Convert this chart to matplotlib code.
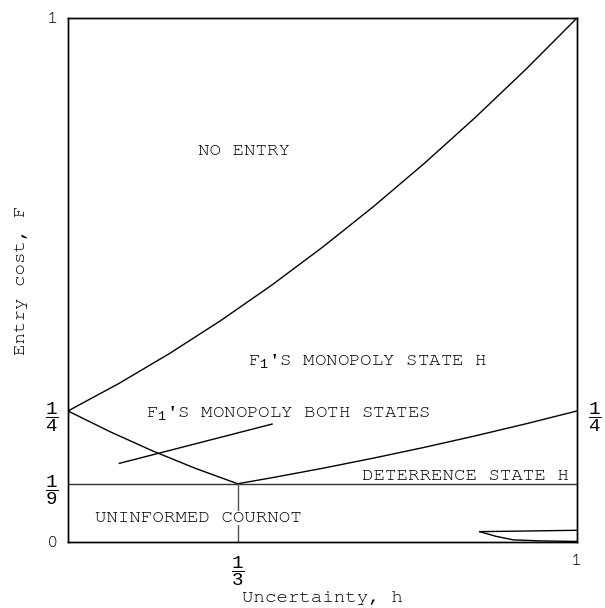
import matplotlib
matplotlib.use("Agg")
import matplotlib.pyplot as plt

mono = ['Courier New', 'Nimbus Mono PS', 'FreeMono', 'Liberation Mono']
plt.rcParams['font.family'] = mono
plt.rcParams['mathtext.fontset'] = 'custom'
plt.rcParams['mathtext.rm'] = 'Liberation Mono'
plt.rcParams['mathtext.it'] = 'Liberation Mono'
plt.rcParams['mathtext.bf'] = 'Liberation Mono'
fs = 13.8

# boundary curves (h, F)
top_h = [0, 0.1, 0.2, 0.3, 0.4, 0.5, 0.6, 0.7, 0.8, 0.9, 1.0]
top_F = [0.25, 0.3025, 0.36, 0.4225, 0.49, 0.5625, 0.64, 0.7225, 0.81, 0.9025, 1.0]

left_h = [0, 1/12, 2/12, 3/12, 1/3]
left_F = [0.25, 0.2101, 0.1736, 0.1406, 0.1111]

right_h = [1/3, 0.4, 0.5, 0.6, 0.7, 0.8, 0.9, 1.0]
right_F = [0.1111, 0.1225, 0.1406, 0.16, 0.1806, 0.2025, 0.2256, 0.25]

deter_F = 1/9
cournot_h = 1/3

# small sliver near bottom right
sl_top_h = [0.809, 1.0]
sl_top_F = [0.0197, 0.0223]
sl_bot_h = [0.809, 0.84, 0.875, 0.93, 1.0]
sl_bot_F = [0.0197, 0.0110, 0.0040, 0.0020, 0.0010]

# pointer for "both states" label
ptr_h = [0.1008, 0.401]
ptr_F = [0.150, 0.225]

yticks = [0, 1/9, 1/4, 1]
ylabels = ['0', r'$\dfrac{1}{9}$', r'$\dfrac{1}{4}$', '1']
xticks = [1/3, 1]
xlabels = [r'$\dfrac{1}{3}$', '1']

fig = plt.figure(figsize=(6.05, 6.08), dpi=100)
ax = fig.add_axes([0.1124, 0.1086, 0.8413, 0.8618])

lw = 1.0
ax.plot(top_h, top_F, 'k', lw=lw)
ax.plot(left_h, left_F, 'k', lw=lw)
ax.plot(right_h, right_F, 'k', lw=lw)
ax.plot([0, 1], [deter_F, deter_F], color='#333333', lw=lw)
ax.plot([cournot_h, cournot_h], [0, deter_F], color='#555555', lw=lw)
ax.plot(sl_top_h, sl_top_F, 'k', lw=lw)
ax.plot(sl_bot_h, sl_bot_F, 'k', lw=lw)
ax.plot(ptr_h, ptr_F, 'k', lw=lw)

ax.text(0.345, 0.7385, 'NO ENTRY', ha='center', va='baseline', fontsize=fs)
ax.text(0.354, 0.3378, "F$_1$'S MONOPOLY STATE H", ha='left', va='baseline', fontsize=fs)
ax.text(0.154, 0.2385, "F$_1$'S MONOPOLY BOTH STATES", ha='left', va='baseline', fontsize=fs)
ax.text(0.984, 0.1183, 'DETERRENCE STATE H', ha='right', va='baseline', fontsize=fs)
ax.text(0.054, 0.0382, 'UNINFORMED COURNOT', ha='left', va='baseline', fontsize=fs,
        bbox=dict(fc='white', ec='none', pad=0))

ax.set_xlim(0, 1)
ax.set_ylim(0, 1)
ax.set_xticks(xticks)
ax.set_xticklabels(xlabels, fontsize=fs)
ax.set_yticks(yticks)
ax.set_yticklabels(ylabels, fontsize=fs)
ax.tick_params(length=0)
ax.tick_params(axis='y', pad=7)
ax.tick_params(axis='x', pad=9)

ax2 = ax.twinx()
ax2.set_ylim(0, 1)
ax2.set_yticks([1/4])
ax2.set_yticklabels([r'$\dfrac{1}{4}$'], fontsize=fs)
ax2.tick_params(length=0, pad=8)

for a in (ax, ax2):
    for s in a.spines.values():
        s.set_linewidth(1.0)

ax.set_xlabel('Uncertainty, h', fontsize=fs, labelpad=2)
ax.set_ylabel('Entry cost, F', fontsize=fs, labelpad=12)

fig.savefig('out.png', dpi=100)
